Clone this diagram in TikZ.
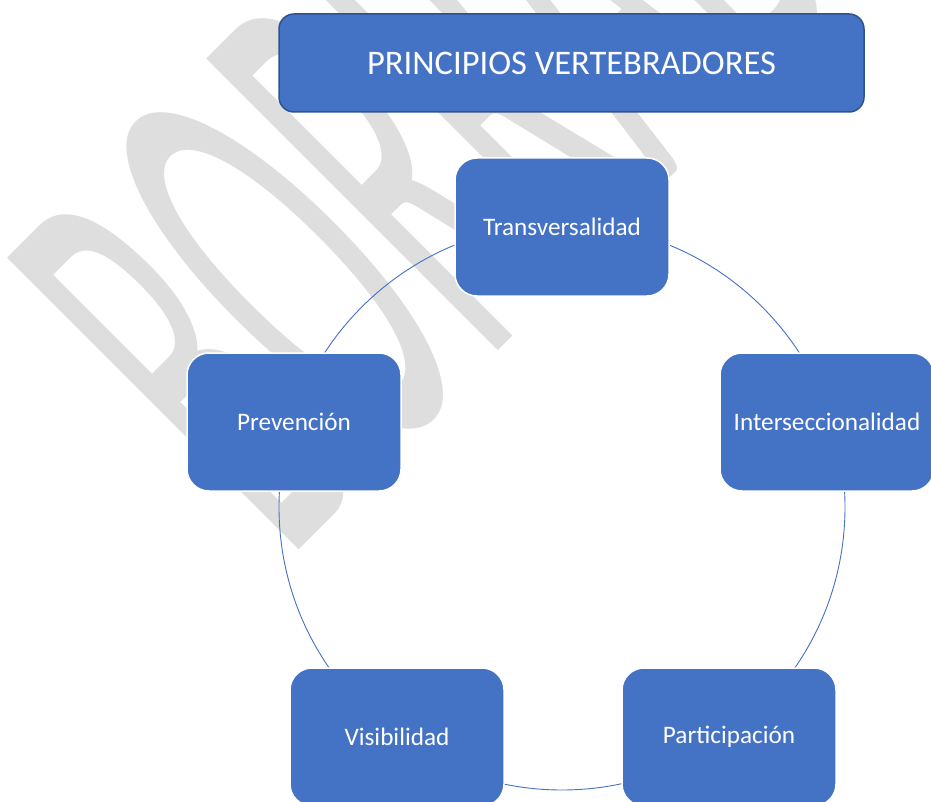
\documentclass[tikz,border=0pt]{standalone}
\usepackage{fontspec}
\setmainfont{Carlito}
\definecolor{boxblue}{HTML}{4472C4}
\definecolor{boxedge}{HTML}{2F528F}
\definecolor{wmgray}{RGB}{222,222,222}
\tikzset{
  pbox/.style={draw=white, line width=1.5pt, fill=boxblue, rounded corners=22pt,
    minimum width=214pt, minimum height=138pt, inner sep=0pt, text=white,
    font=\fontsize{25.2}{29}\selectfont},
  titlebox/.style={draw=boxedge, line width=1.5pt, fill=boxblue, rounded corners=15pt,
    minimum width=585pt, minimum height=98pt, inner sep=0pt, text=white,
    font=\fontsize{34.5}{40}\selectfont},
  ring/.style={draw=boxblue, line width=0.9pt},
  wmtext/.style={text=wmgray, inner sep=0pt, font=\fontsize{100}{100}\selectfont}
}
\begin{document}
\begin{tikzpicture}[x=1pt,y=-1pt]
\useasboundingbox (0,0) rectangle (931,802);
\begin{scope}
\clip (0,0) rectangle (931,802);
\fill[white] (0,0) rectangle (931,802);
\node[wmtext, anchor=base west, rotate=45, xscale=2.33, yscale=6.43] (wm) at (287,561.5) {BORRADOR};
\coordinate (c) at (562,507);
\draw[ring] (c) circle[radius=283];
\node[titlebox] (title) at (571.5,63) {PRINCIPIOS VERTEBRADORES};
\node[pbox] (trans) at (562,227) {Transversalidad};
\node[pbox] (inter) at (827,422) {Interseccionalidad};
\node[pbox] (part) at (729,737) {Participación};
\node[pbox] (vis) at (397,737) {Visibilidad};
\node[pbox] (prev) at (294,422) {Prevención};
\end{scope}
\end{tikzpicture}
\end{document}
